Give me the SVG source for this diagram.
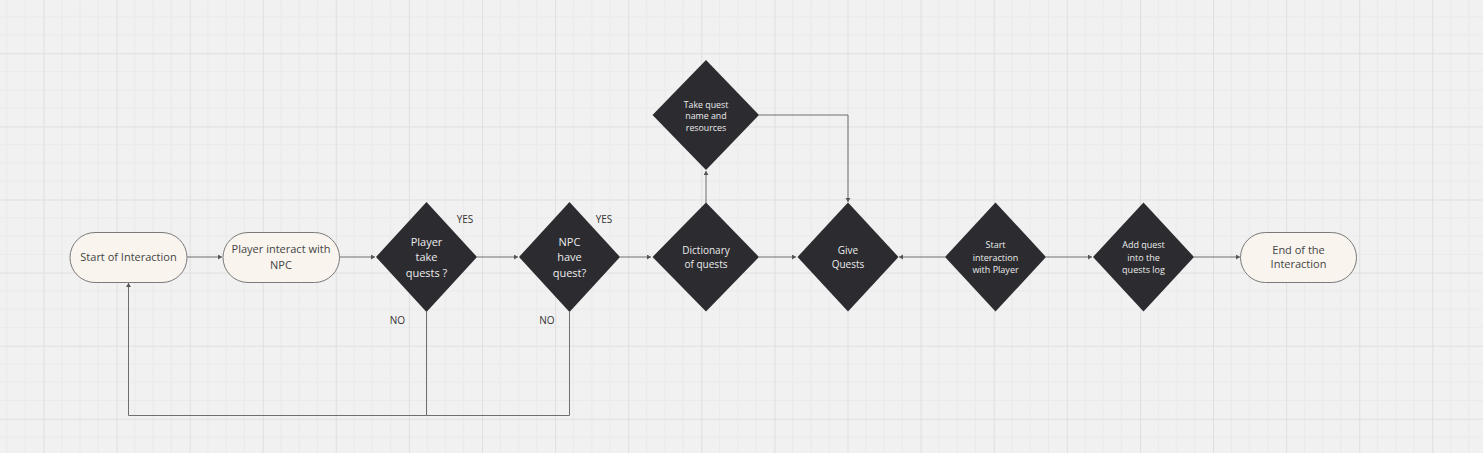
<svg xmlns="http://www.w3.org/2000/svg" width="1483" height="453" viewBox="0 0 1483 453">
<defs>
<pattern id="grid" patternUnits="userSpaceOnUse" x="43.4" y="53.3" width="73.1" height="73.1">
<rect width="73.1" height="73.1" fill="#f1f1f1"/>
<path d="M18.3 0V73.1M36.55 0V73.1M54.8 0V73.1M0 18.3H73.1M0 36.55H73.1M0 54.8H73.1" stroke="#eaeaea" stroke-width="1" fill="none"/>
<path d="M0.5 0V73.1M0 0.5H73.1" stroke="#dfdfdf" stroke-width="1" fill="none"/>
</pattern>
<marker id="arr" markerUnits="userSpaceOnUse" markerWidth="6" markerHeight="6" refX="4" refY="2.5" orient="auto">
<path d="M0 0L4 2.5L0 5Z" fill="#555"/>
</marker>
<style>
.pill{fill:#f9f5ee;stroke:#7a7a7a;stroke-width:1}
.dia{fill:#2b2b30}
.pt{font-family:"Open Sans","Liberation Sans",sans-serif;font-size:11px;fill:#444;text-anchor:middle}
.dt{font-family:"Open Sans","Liberation Sans",sans-serif;fill:#ececec;text-anchor:middle}
.lbl{font-family:"Open Sans","Liberation Sans",sans-serif;font-size:10px;fill:#333;text-anchor:middle}
.c{fill:none;stroke:#6e6e6e;stroke-width:1}
</style>
</defs>
<rect width="1483" height="453" fill="url(#grid)"/>

<g id="connectors">
<path class="c" d="M187 257H222" marker-end="url(#arr)"/>
<path class="c" d="M339 257H375" marker-end="url(#arr)"/>
<path class="c" d="M477 257H518" marker-end="url(#arr)"/>
<path class="c" d="M620 257H651" marker-end="url(#arr)"/>
<path class="c" d="M706 203V171" marker-end="url(#arr)"/>
<path class="c" d="M759 115H848V202" marker-end="url(#arr)"/>
<path class="c" d="M759 257H796" marker-end="url(#arr)"/>
<path class="c" d="M945 257H899" marker-end="url(#arr)"/>
<path class="c" d="M1046 257H1092" marker-end="url(#arr)"/>
<path class="c" d="M1194 257H1240" marker-end="url(#arr)"/>
<path class="c" d="M426.5 312V415.5H128.5V283" marker-end="url(#arr)"/>
<path class="c" d="M569.5 312V415.5H426.5"/>
</g>

<g id="start">
<rect class="pill" x="70" y="232.5" width="117" height="50" rx="25"/>
<text class="pt" x="128.5" y="261">Start of Interaction</text>
</g>
<g id="player-interact">
<rect class="pill" x="223" y="232.5" width="116.5" height="50" rx="25"/>
<text class="pt" x="281" y="253">Player interact with</text>
<text class="pt" x="281" y="269">NPC</text>
</g>
<g id="player-take">
<path class="dia" d="M426.5 202L477 257L426.5 312L376 257Z"/>
<text class="dt" font-size="11" x="426.5" y="245.5">Player</text>
<text class="dt" font-size="11" x="426.5" y="261">take</text>
<text class="dt" font-size="11" x="426.5" y="276.5">quests ?</text>
</g>
<g id="npc-have">
<path class="dia" d="M569.5 202L620 257L569.5 312L519 257Z"/>
<text class="dt" font-size="11" x="569.5" y="245.5">NPC</text>
<text class="dt" font-size="11" x="569.5" y="261">have</text>
<text class="dt" font-size="11" x="569.5" y="276.5">quest?</text>
</g>
<g id="dictionary">
<path class="dia" d="M706 202.5L759 257L706 311.5L652.5 257Z"/>
<text class="dt" font-size="10" x="706" y="253.5">Dictionary</text>
<text class="dt" font-size="10" x="706" y="268">of quests</text>
</g>
<g id="take-quest">
<path class="dia" d="M706 60L759 115L706 170L652.5 115Z"/>
<text class="dt" font-size="8.8" x="706" y="107.5">Take quest</text>
<text class="dt" font-size="8.8" x="706" y="119.3">name and</text>
<text class="dt" font-size="8.8" x="706" y="131">resources</text>
</g>
<g id="give-quests">
<path class="dia" d="M848 202.5L898.5 257L848 311.5L797.5 257Z"/>
<text class="dt" font-size="10" x="848" y="253.5">Give</text>
<text class="dt" font-size="10" x="848" y="268">Quests</text>
</g>
<g id="start-interaction">
<path class="dia" d="M995.5 202.5L1046 257L995.5 311.5L945 257Z"/>
<text class="dt" font-size="9" x="995.5" y="248">Start</text>
<text class="dt" font-size="9" x="995.5" y="260.5">interaction</text>
<text class="dt" font-size="9" x="995.5" y="273">with Player</text>
</g>
<g id="add-quest">
<path class="dia" d="M1143.5 202.5L1194 257L1143.5 311.5L1093 257Z"/>
<text class="dt" font-size="9" x="1143.5" y="248">Add quest</text>
<text class="dt" font-size="9" x="1143.5" y="260.5">into the</text>
<text class="dt" font-size="9" x="1143.5" y="273">quests log</text>
</g>
<g id="end">
<rect class="pill" x="1240.5" y="232.5" width="116" height="50" rx="25"/>
<text class="pt" x="1298.5" y="253.5">End of the</text>
<text class="pt" x="1298.5" y="268">Interaction</text>
</g>
<g id="labels">
<text class="lbl" x="465" y="222.5">YES</text>
<text class="lbl" x="604" y="222.5">YES</text>
<text class="lbl" x="397.5" y="323.5">NO</text>
<text class="lbl" x="547" y="323.5">NO</text>
</g>
</svg>
